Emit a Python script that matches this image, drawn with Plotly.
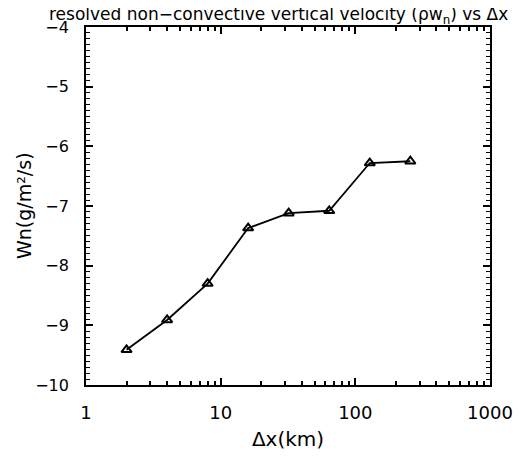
import plotly.graph_objects as go

dx_km = [2, 4, 8, 16, 32, 64, 128, 256]
wn = [-9.41, -8.91, -8.30, -7.37, -7.12, -7.08, -6.28, -6.25]

x_ticks = [1, 10, 100, 1000]
x_tick_labels = ["1", "10", "100", "1000"]
x_minor = [k * 10 ** d for d in range(3) for k in range(2, 10)]

title_text = "resolved non\u2212convective vertical velocity (\u03c1w<sub>n</sub>) vs \u0394x"
y_title = "Wn(g/m\u00b2/s)"
x_title = "\u0394x(km)"

font_family = "DejaVu Sans"

# the page body adds an 8px offset; the figure is sized to fit the 532x460 window
W, H = 524, 452
L, R, T, B = 78, 42, 19, 75

fig = go.Figure()
fig.add_trace(go.Scatter(
    x=dx_km, y=wn, mode="lines+markers",
    line=dict(color="black", width=1.8),
    marker=dict(symbol="triangle-up-open", size=9, color="black",
                line=dict(color="black", width=2)),
    showlegend=False,
))

fig.update_layout(
    width=W, height=H,
    margin=dict(l=L, r=R, t=T, b=B, autoexpand=False),
    paper_bgcolor="white", plot_bgcolor="white",
    font=dict(family=font_family, color="black", size=15),
    title=dict(text=title_text, xref="container", x=41 / W, xanchor="left",
               yref="container", y=1 - 6 / H, yanchor="middle",
               automargin=False,
               font=dict(size=17, family=font_family, color="black")),
)

fig.add_annotation(
    text=y_title, textangle=-90, showarrow=False,
    xref="paper", yref="paper",
    x=(16 - L) / (W - L - R), y=0.5, xanchor="center", yanchor="middle",
    font=dict(size=19, family=font_family, color="black"),
)

fig.update_xaxes(
    type="log", range=[0, 3], automargin=False,
    tickvals=x_ticks, ticktext=x_tick_labels,
    ticks="inside", ticklen=7, tickwidth=1.5, tickcolor="black",
    showline=True, linecolor="black", linewidth=1.8, mirror="allticks",
    showgrid=False, zeroline=False,
    tickfont=dict(size=18), ticklabelstandoff=10,
    minor=dict(tickvals=x_minor, ticks="inside", ticklen=4, tickwidth=1.5,
               tickcolor="black", showgrid=False),
    title=dict(text=x_title, font=dict(size=20), standoff=10),
)

fig.update_yaxes(
    range=[-10, -4], dtick=1, tick0=-10, automargin=False,
    ticks="inside", ticklen=7, tickwidth=1.5, tickcolor="black",
    showline=True, linecolor="black", linewidth=1.8, mirror="allticks",
    showgrid=False, zeroline=False,
    tickfont=dict(size=16), ticklabelstandoff=12,
    minor=dict(dtick=0.1, ticks="inside", ticklen=4, tickwidth=1.2,
               tickcolor="black", showgrid=False),
)

fig.write_html("out.html")
